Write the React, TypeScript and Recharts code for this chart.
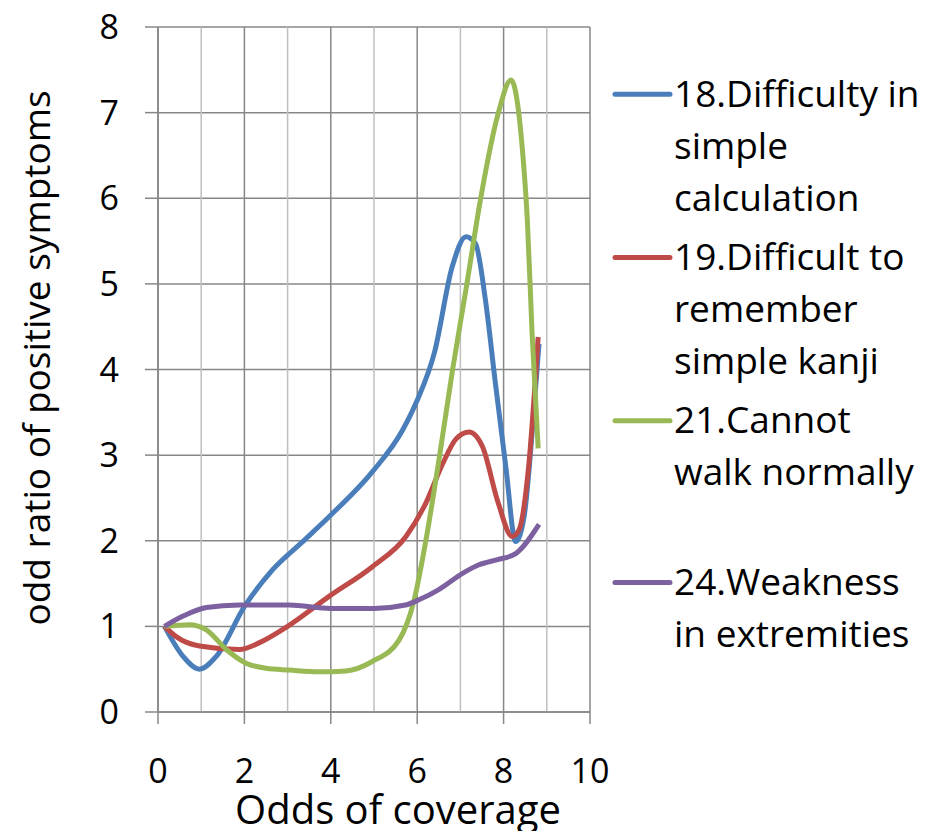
import React from 'react';
import { LineChart, Line, XAxis, YAxis, CartesianGrid, ReferenceLine, Legend } from 'recharts';

// [odds of coverage, odd ratio]
const difficultyCalc = [
  [0.15, 1.0], [0.58, 0.65], [0.96, 0.5], [1.35, 0.65], [2.0, 1.23], [2.65, 1.66],
  [3.35, 1.99], [3.96, 2.28], [4.97, 2.81], [5.66, 3.29], [6.0, 3.64], [6.4, 4.2],
  [6.81, 5.2], [7.13, 5.55], [7.35, 5.47], [7.58, 4.81], [7.81, 3.84], [8.05, 2.87],
  [8.28, 1.99], [8.48, 2.3], [8.66, 3.26], [8.82, 4.3],
];
const difficultKanji = [
  [0.15, 1.0], [0.42, 0.88], [0.96, 0.77], [1.88, 0.73], [2.35, 0.81], [3.0, 1.0],
  [3.96, 1.35], [4.97, 1.7], [5.74, 2.05], [6.2, 2.44], [6.59, 2.9], [6.9, 3.19],
  [7.2, 3.27], [7.51, 3.1], [7.87, 2.45], [8.2, 2.05], [8.36, 2.13], [8.58, 2.87],
  [8.8, 4.38],
];
const cannotWalk = [
  [0.15, 1.0], [0.73, 1.02], [1.12, 0.96], [1.58, 0.73], [2.04, 0.57], [2.5, 0.51],
  [3.04, 0.49], [3.73, 0.47], [4.35, 0.48], [4.96, 0.59], [5.58, 0.84], [5.93, 1.31],
  [6.2, 2.0], [6.52, 3.0], [6.82, 4.0], [7.15, 5.0], [7.47, 6.0], [7.88, 7.0],
  [8.17, 7.38], [8.31, 7.15], [8.43, 6.6], [8.55, 5.74], [8.66, 4.42], [8.8, 3.08],
];
const weakness = [
  [0.15, 1.0], [0.58, 1.12], [1.12, 1.22], [1.88, 1.25], [3.04, 1.25], [4.0, 1.21],
  [5.0, 1.21], [5.73, 1.25], [6.04, 1.31], [6.5, 1.43], [7.05, 1.62], [7.43, 1.72],
  [7.86, 1.78], [8.28, 1.85], [8.82, 2.19],
];

const seriesNames = [
  ['18.Difficulty in', 'simple', 'calculation'],
  ['19.Difficult to', 'remember', 'simple kanji'],
  ['21.Cannot', 'walk normally'],
  ['24.Weakness', 'in extremities'],
];
const seriesData = [difficultyCalc, difficultKanji, cannotWalk, weakness];
const colors = ['#4a7ebb', '#be4b48', '#98b954', '#7d60a0'];

const xTicks = [0, 2, 4, 6, 8, 10];
const xMinor = [1, 3, 5, 7, 9];
const yTicks = [0, 1, 2, 3, 4, 5, 6, 7, 8];

const FONT = '"Open Sans", sans-serif';
const legendBaselines = [106.7, 270, 433.3, 595];

const toPoints = (rows: number[][]) => rows.map(([x, y]) => ({ x, y }));

function LegendBox() {
  return (
    <svg width={354} height={680} style={{ display: 'block', fontFamily: FONT }}>
      {seriesNames.map((lines, i) => {
        const base = legendBaselines[i];
        return (
          <g key={i}>
            <line x1={25} x2={80} y1={base - 12.5} y2={base - 12.5} stroke={colors[i]} strokeWidth={5} strokeLinecap="round" />
            {lines.map((t, j) => (
              <text key={j} x={84} y={base + j * 52} fontSize={37} fill="#000">{t}</text>
            ))}
          </g>
        );
      })}
    </svg>
  );
}

const yTitle = () => (
  <text transform="translate(50,358) rotate(-90)" textAnchor="middle" fontSize={37} fill="#000" fontFamily={FONT}>
    odd ratio of positive symptoms
  </text>
);

const xTitle = () => (
  <text x={398} y={824} textAnchor="middle" fontSize={40} fill="#000" fontFamily={FONT}>
    Odds of coverage
  </text>
);

export default function App() {
  return (
    <div style={{ position: 'absolute', left: 0, top: 0, background: '#fff' }}>
      <LineChart width={944} height={831} margin={{ top: 27, right: 0, bottom: 0, left: 0 }} style={{ fontFamily: FONT }}>
        <CartesianGrid stroke="#878787" strokeWidth={1.5} />
        {xMinor.map((v) => (
          <ReferenceLine key={v} x={v} stroke="#bfbfbf" strokeWidth={1.5} />
        ))}
        <XAxis
          type="number"
          dataKey="x"
          domain={[0, 10]}
          ticks={xTicks}
          allowDataOverflow
          height={119}
          tickSize={12}
          tickMargin={35}
          stroke="#878787"
          strokeWidth={1.5}
          tick={{ fill: '#000', fontSize: 34, fontFamily: FONT }}
          label={xTitle}
        />
        <YAxis
          type="number"
          domain={[0, 8]}
          ticks={yTicks}
          width={158}
          tickSize={13}
          tickMargin={26}
          stroke="#878787"
          strokeWidth={1.5}
          tick={{ fill: '#000', fontSize: 34, fontFamily: FONT }}
          label={yTitle}
        />
        <Legend
          layout="vertical"
          align="right"
          verticalAlign="top"
          wrapperStyle={{ width: 354, top: 0, right: 0 }}
          content={() => <LegendBox />}
        />
        {seriesData.map((rows, i) => (
          <Line
            key={i}
            data={toPoints(rows)}
            dataKey="y"
            name={seriesNames[i].join(' ')}
            type="monotone"
            stroke={colors[i]}
            strokeWidth={5}
            dot={false}
            activeDot={false}
            isAnimationActive={false}
          />
        ))}
      </LineChart>
    </div>
  );
}
